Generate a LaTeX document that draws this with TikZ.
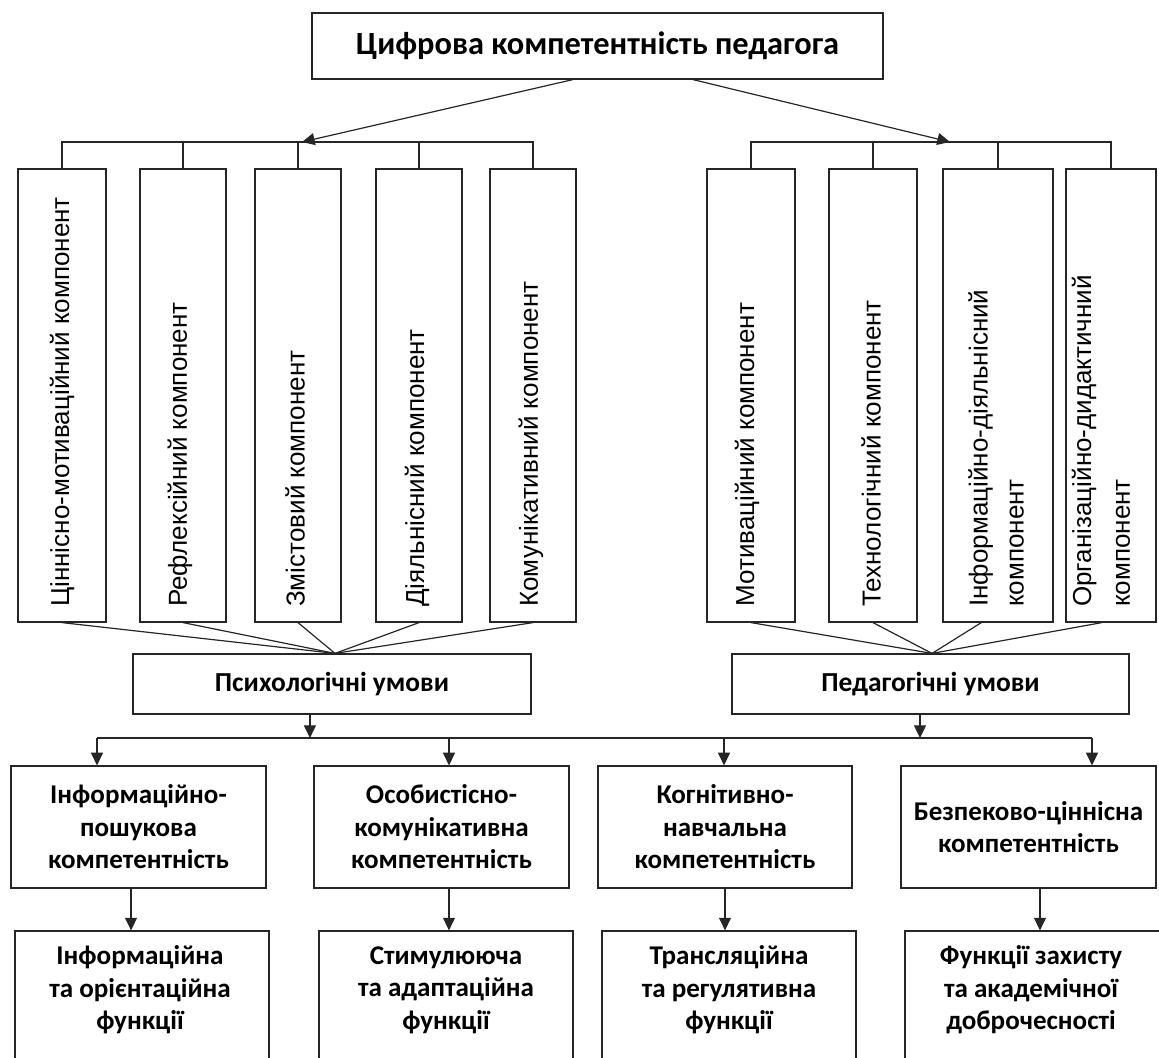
\documentclass[tikz,border=0pt]{standalone}
\usepackage{fontspec}
\setmainfont{Carlito}
\newfontfamily\arialf{Liberation Sans}
\usetikzlibrary{arrows.meta,calc}
\tikzset{
  px/.style={x=0.75pt,y=-0.75pt},
  bx/.style={draw=black!85, line width=0.9pt, inner sep=0pt, align=center},
  wh/.style 2 args={minimum width=#1*0.75pt, minimum height=#2*0.75pt},
  vtxt/.style={rotate=90, anchor=west, font=\arialf\fontsize{19.5}{27}\selectfont, align=left, inner sep=0pt},
  htxt/.style={align=center, inner sep=0pt, font=\bfseries\fontsize{20.3}{24.4}\selectfont},
  ln/.style={draw=black!85, line width=0.9pt},
  arr/.style={ln, -{Triangle[length=9.5pt,width=9pt]}},
}
\begin{document}
\begin{tikzpicture}[px]
\useasboundingbox (0,0) rectangle (1159,1057);
% top
\node[bx, wh={571}{66}, font=\bfseries\fontsize{24.3}{28}\selectfont] (top) at (597.5,46) {Цифрова компетентність педагога};
% left column boxes
\node[bx, wh={88}{453}] (L1) at (62,395.5) {};
\node[bx, wh={86}{453}] (L2) at (183,395.5) {};
\node[bx, wh={86}{453}] (L3) at (298,395.5) {};
\node[bx, wh={86}{453}] (L4) at (419,395.5) {};
\node[bx, wh={86}{453}] (L5) at (533,395.5) {};
% right column boxes
\node[bx, wh={88}{453}] (R1) at (751,395.5) {};
\node[bx, wh={88}{453}] (R2) at (873,395.5) {};
\node[bx, wh={110}{453}] (R3) at (998,395.5) {};
\node[bx, wh={90}{453}] (R4) at (1111,395.5) {};
% vertical texts
\node[vtxt] (L1t) at (62,607) {Ціннісно-мотиваційний компонент};
\node[vtxt] (L2t) at (180,607) {Рефлексійний компонент};
\node[vtxt] (L3t) at (295,607) {Змістовий компонент};
\node[vtxt] (L4t) at (417,607) {Діяльнісний компонент};
\node[vtxt] (L5t) at (531,607) {Комунікативний компонент};
\node[vtxt] (R1t) at (747,607) {Мотиваційний компонент};
\node[vtxt] (R2t) at (871,607) {Технологічний компонент};
\node[vtxt] (R3t) at (996,607) {Інформаційно-діяльнісний\\компонент};
\node[vtxt, font=\arialf\fontsize{19.5}{29}\selectfont] (R4t) at (1101,607) {Організаційно-дидактичний\\компонент};
% conditions
\node[bx, wh={398}{60}, font=\bfseries\fontsize{20.6}{24}\selectfont] (psych) at (332,684) {Психологічні умови};
\node[bx, wh={397}{60}, font=\bfseries\fontsize{20.6}{24}\selectfont] (ped) at (930.5,684) {Педагогічні умови};
% competences
\node[bx, wh={255}{122}, htxt] (cA) at (138.5,827) {Інформаційно-\\пошукова\\компетентність};
\node[bx, wh={255}{122}, htxt] (cB) at (441.5,827) {Особистісно-\\комунікативна\\компетентність};
\node[bx, wh={254}{122}, htxt] (cC) at (725,827) {Когнітивно-\\навчальна\\компетентність};
\node[bx, wh={255}{122}, htxt] (cD) at (1028.5,827) {Безпеково-ціннісна\\компетентність};
% functions
\node[bx, wh={254}{139}] (fA) at (142,1000.5) {};
\node[bx, wh={254}{139}] (fB) at (446,1000.5) {};
\node[bx, wh={254}{139}] (fC) at (729,1000.5) {};
\node[bx, wh={257}{139}] (fD) at (1033.5,1000.5) {};
\node[htxt] (fAt) at (140,990) {Інформаційна\\та орієнтаційна\\функції};
\node[htxt] (fBt) at (446,990) {Стимулююча\\та адаптаційна\\функції};
\node[htxt] (fCt) at (729,990) {Трансляційна\\та регулятивна\\функції};
\node[htxt] (fDt) at (1031,990) {Функції захисту\\та академічної\\доброчесності};
% hubs
\coordinate (lhub) at (302,142);
\coordinate (rhub) at (950,142);
\coordinate (tl) at ($(top.south west)!0.457!(top.south east)$);
\coordinate (tr) at ($(top.south west)!0.667!(top.south east)$);
\draw[arr] (tl) -- (lhub);
\draw[arr] (tr) -- (rhub);
% brackets
\draw[ln] (L1.north) |- (L5.north |- lhub) -- (L5.north);
\foreach \n in {L2,L3,L4} \draw[ln] (\n.north) -- (\n.north |- lhub);
\draw[ln] (R1.north) |- (R4.north |- rhub) -- (R4.north);
\foreach \n in {R2,R3} \draw[ln] (\n.north) -- (\n.north |- rhub);
% fans
\coordinate (pconv) at ($(psych.north)+(3,0)$);
\coordinate (qconv) at ($(ped.north)+(1.5,0)$);
\foreach \n in {L1,L2,L3,L4,L5} \draw[ln] (\n.south) -- (pconv);
\draw[ln] (R1.south) -- (qconv);
\draw[ln] (R2.south) -- (qconv);
\draw[ln] ($(R3.south west)!0.35!(R3.south east)$) -- (qconv);
\draw[ln] ($(R4.south west)!0.4!(R4.south east)$) -- (qconv);
% bus
\coordinate (b1) at (97,738);
\coordinate (b2) at (449,738);
\coordinate (b3) at (724,738);
\coordinate (b4) at (1092,738);
\draw[ln] (b1) -- (b4);
\coordinate (pd) at ($(psych.south west)!0.4447!(psych.south east)$);
\coordinate (qd) at ($(ped.south west)!0.4736!(ped.south east)$);
\draw[arr] (pd) -- (pd |- b1);
\draw[arr] (qd) -- (qd |- b1);
\draw[arr] (b1) -- (b1 |- cA.north);
\draw[arr] (b2) -- (b2 |- cB.north);
\draw[arr] (b3) -- (b3 |- cC.north);
\draw[arr] (b4) -- (b4 |- cD.north);
% competence -> function
\coordinate (aA) at ([xshift=-5.6pt]cA.south);
\coordinate (aB) at ([xshift=5.6pt]cB.south);
\coordinate (aC) at (cC.south);
\coordinate (aD) at ([xshift=8.6pt]cD.south);
\draw[arr] (aA) -- (aA |- fA.north);
\draw[arr] (aB) -- (aB |- fB.north);
\draw[arr] (aC) -- (aC |- fC.north);
\draw[arr] (aD) -- (aD |- fD.north);
\end{tikzpicture}
\end{document}
